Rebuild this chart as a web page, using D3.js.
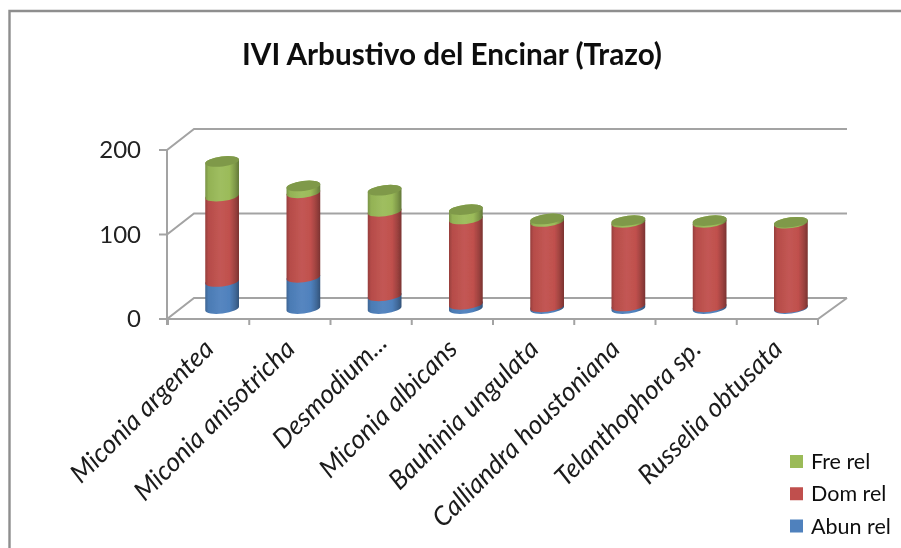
<!DOCTYPE html>
<html><head><meta charset="utf-8">
<script src="https://cdn.jsdelivr.net/npm/d3@7"></script>
<style>html,body{margin:0;padding:0;background:#fff}svg{display:block}</style>
</head><body><div id="chart"></div>
<script>
const categories = ["Miconia argentea","Miconia anisotricha","Desmodium...","Miconia albicans","Bauhinia ungulata","Calliandra houstoniana","Telanthophora sp.","Russelia obtusata"];
const abunRel = [32,37,15,5,2,3,2,1];
const domRel = [101,100,100,101,101,99,100,100];
const freRel = [41,8,25,11,3,2,2,1];
const seriesNames = ["Abun rel","Dom rel","Fre rel"];
const seriesColors = ["#4f81bd","#c0504d","#9bbb59"];
const yTicks = [0,100,200];
const chartTitle = "IVI Arbustivo del Encinar (Trazo)";

const W=901,H=548, depthX=27, depthY=-21, rx=17, ry=5, tilt=-7;
const font="Lato, 'Open Sans', sans-serif";
const svg=d3.select("#chart").append("svg").attr("width",W).attr("height",H);
const defs=svg.append("defs");
defs.append("filter").attr("id","soft").attr("x","-5%").attr("y","-5%").attr("width","110%").attr("height","110%")
  .append("feGaussianBlur").attr("stdDeviation",0.45);
const root=svg.append("g").attr("filter","url(#soft)");
root.append("rect").attr("width",W).attr("height",H).attr("fill","#fff");

// outer frame (open on the right and bottom)
root.append("path").attr("d",`M${W+5},11H9.5V${H+5}`).attr("fill","none").attr("stroke","#8e8e8e").attr("stroke-width",2.4);

const x=d3.scaleBand().domain(categories).range([168,818]);
const y=d3.scaleLinear().domain([0,200]).range([319,150]);
const grid="#a3a3a3";

// walls and gridlines
const walls=root.append("g").attr("fill","none").attr("stroke",grid).attr("stroke-width",2);
yTicks.forEach(t=>{
  walls.append("path").attr("d",`M159,${y(t)}H167L${167+depthX},${y(t)+depthY}H847`);
});
walls.append("path").attr("d",`M167,${y(200)}V${y(0)+6}`);
walls.append("path").attr("d",`M167,${y(0)}H818L847,${y(0)+depthY}`);
categories.concat([null]).forEach((c,i)=>{
  const px=c?x(c):818;
  walls.append("path").attr("d",`M${px},${y(0)}V${y(0)+6}`);
});

// y labels
root.append("g").selectAll("text").data(yTicks).join("text")
  .attr("x",141).attr("y",d=>y(d)).attr("dy","0.35em").attr("text-anchor","end")
  .attr("font-family",font).attr("font-size",24).attr("fill","#222").text(d=>d);

// gradients
function shade(c,k){return k>0?d3.interpolateRgb(c,"#fff")(k):d3.interpolateRgb(c,"#000")(-k);}
seriesColors.forEach((c,i)=>{
  const g=defs.append("linearGradient").attr("id","cyl"+i).attr("x1",0).attr("x2",1).attr("y1",0).attr("y2",0);
  [[0,-0.22],[0.1,-0.05],[0.45,0.04],[0.72,0],[0.88,-0.18],[1,-0.36]].forEach(([o,k])=>
    g.append("stop").attr("offset",o).attr("stop-color",shade(c,k)));
});

// stacked cylinders
const rows=categories.map((c,i)=>({c,v:[abunRel[i],domRel[i],freRel[i]]}));
const rad=tilt*Math.PI/180, ex=rx*Math.cos(rad), ey=rx*Math.sin(rad);
const bars=root.append("g");
rows.forEach(r=>{
  const cx=x(r.c)+x.bandwidth()/2+depthX/2;
  let cum=0;
  r.v.forEach((v,s)=>{
    const yb=y(cum)+depthY/2, yt=y(cum+v)+depthY/2;
    cum+=v;
    bars.append("path").attr("fill",`url(#cyl${s})`)
      .attr("d",`M${cx-ex},${yb-ey}A${rx},${ry} ${tilt} 0 0 ${cx+ex},${yb+ey}L${cx+ex},${yt+ey}A${rx},${ry} ${tilt} 0 0 ${cx-ex},${yt-ey}Z`);
    if(s===2){
      bars.append("ellipse").attr("cx",cx).attr("cy",yt).attr("rx",rx).attr("ry",ry)
        .attr("transform",`rotate(${tilt} ${cx} ${yt})`).attr("fill",shade(seriesColors[s],-0.18));
    }
  });
});

// x labels (the truncated label sits a little further along the axis, as in the source)
root.append("g").selectAll("text").data(categories).join("text")
  .attr("text-anchor","end").attr("font-family",font).attr("font-style","italic")
  .attr("font-size",26.3).attr("fill","#1a1a1a")
  .attr("transform",d=>{
    const truncated=d.endsWith("...");
    return `translate(${x(d)+x.bandwidth()/2+(truncated?11:0)},${truncated?338:344}) rotate(-45)`;
  })
  .attr("dy","0.35em").text(d=>d);

// title
root.append("text").attr("x",452).attr("y",65).attr("text-anchor","middle")
  .attr("font-family",font).attr("font-weight",700).attr("font-size",29.7).attr("fill","#111").text(chartTitle);

// legend
const legendY=d3.scalePoint().domain(seriesNames).range([526,461.5]);
const lg=root.append("g").selectAll("g").data(seriesNames).join("g").attr("transform",d=>`translate(790,${legendY(d)})`);
lg.append("rect").attr("y",-6.5).attr("width",13).attr("height",13).attr("fill",(d,i)=>seriesColors[i]);
lg.append("text").attr("x",21).attr("dy","0.35em").attr("font-family",font).attr("font-size",21.5).attr("fill","#111").text(d=>d);
</script></body></html>
